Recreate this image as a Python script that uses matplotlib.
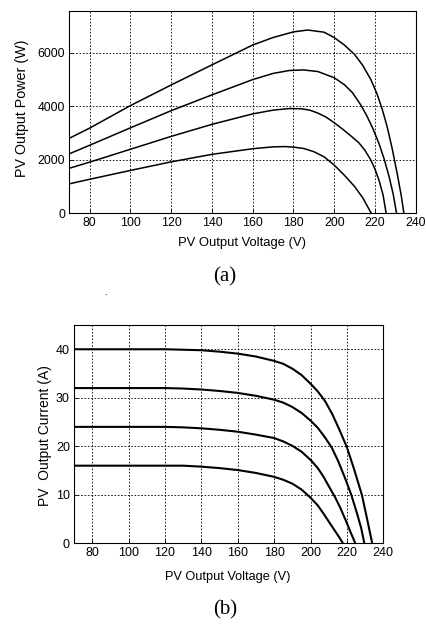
import matplotlib
matplotlib.use("Agg")
import matplotlib.pyplot as plt

# ---- Data: (a) power vs voltage ----
v_p1 = [70, 80, 100, 120, 140, 160, 170, 180, 187, 195, 200, 205, 210, 214, 218, 221, 223.5, 226, 228.5, 231, 233, 234.2]
p1 = [2800, 3180, 4020, 4790, 5540, 6280, 6560, 6770, 6840, 6760, 6560, 6280, 5930, 5520, 4990, 4460, 3900, 3230, 2400, 1450, 620, 0]
v_p2 = [70, 80, 100, 120, 140, 160, 170, 178, 185, 192, 200, 205, 209, 213, 216, 219, 222, 224.5, 227, 229, 230.6]
p2 = [2220, 2540, 3190, 3830, 4420, 4990, 5220, 5330, 5350, 5290, 5060, 4800, 4500, 4050, 3640, 3160, 2600, 2030, 1350, 700, 0]
v_p3 = [70, 80, 100, 120, 140, 160, 170, 178, 184, 188, 192, 196, 200, 204, 208, 212, 215, 217.9, 220, 222, 224, 225.5]
p3 = [1680, 1910, 2390, 2870, 3320, 3710, 3850, 3910, 3900, 3850, 3740, 3590, 3380, 3150, 2900, 2640, 2360, 2000, 1650, 1230, 680, 0]
v_p4 = [70, 80, 100, 120, 140, 160, 170, 176, 180, 185, 190, 195, 200, 205, 210, 214, 218.2]
p4 = [1100, 1270, 1600, 1920, 2200, 2410, 2480, 2490, 2470, 2420, 2300, 2110, 1800, 1420, 1000, 580, 0]

# ---- Data: (b) current vs voltage ----
v_i1 = [70, 100, 120, 130, 140, 150, 160, 170, 180, 185, 190, 195, 200, 204, 208, 212, 216, 220, 224, 228.3, 231.1, 233.9]
i1 = [40, 40, 40, 39.9, 39.8, 39.5, 39.1, 38.5, 37.6, 37.0, 36.0, 34.7, 32.9, 31.3, 29.3, 26.6, 23.3, 19.8, 15.2, 9.9, 5.0, 0]
v_i2 = [70, 100, 120, 130, 140, 150, 160, 170, 180, 185, 190, 195, 200, 204, 208, 211.7, 215, 218.5, 222.4, 225.6, 227.8, 229.6]
i2 = [32, 32, 32, 31.9, 31.7, 31.4, 31.0, 30.4, 29.6, 29.0, 28.1, 26.9, 25.3, 23.8, 21.8, 19.7, 17.1, 13.9, 10.0, 6.1, 3.2, 0]
v_i3 = [70, 100, 120, 130, 140, 150, 160, 170, 180, 185, 190, 195, 200, 204, 207, 210, 213.5, 216.5, 219.5, 222, 224.6]
i3 = [24, 24, 24, 23.9, 23.7, 23.4, 23.0, 22.4, 21.7, 21.0, 20.1, 18.9, 17.2, 15.5, 13.8, 11.8, 9.5, 7.2, 4.6, 2.3, 0]
v_i4 = [70, 100, 120, 130, 140, 150, 160, 170, 180, 185, 190, 195, 200, 204, 207, 210, 213, 215.5, 217.8]
i4 = [16, 16, 16, 16, 15.8, 15.5, 15.1, 14.5, 13.7, 13.1, 12.3, 11.1, 9.4, 7.8, 6.2, 4.5, 2.8, 1.4, 0]

x_ticks = [80, 100, 120, 140, 160, 180, 200, 220, 240]
p_ticks = [0, 2000, 4000, 6000]
i_ticks = [0, 10, 20, 30, 40]

W, H = 427, 624
fig = plt.figure(figsize=(W / 100, H / 100), dpi=100)
fig.patch.set_facecolor("white")

sans = ["Liberation Sans", "DejaVu Sans"]
serif = ["Liberation Serif", "DejaVu Serif"]


def style_axes(ax, fs):
    ax.grid(True, color="black", linestyle=(0, (2, 2)), linewidth=0.6)
    ax.tick_params(direction="in", length=3, width=0.6, labelsize=fs, pad=3)
    for lab in ax.get_xticklabels() + ax.get_yticklabels():
        lab.set_family(sans)
    for s in ax.spines.values():
        s.set_linewidth(0.8)
    ax.set_axisbelow(True)


# (a)
l1, b1, w1, h1 = 69.3, 213.3, 346.4, 202.3
ax1 = fig.add_axes([l1 / W, 1 - b1 / H, w1 / W, h1 / H])
for v, p in [(v_p1, p1), (v_p2, p2), (v_p3, p3), (v_p4, p4)]:
    ax1.plot(v, p, color="black", linewidth=1.1)
ax1.set_xlim(70, 240)
ax1.set_ylim(0, 7550)
ax1.set_xticks(x_ticks)
ax1.set_yticks(p_ticks)
style_axes(ax1, 8.9)
ax1.set_xlabel("PV Output Voltage (V)", family=sans, fontsize=9.4, va="center")
ax1.xaxis.set_label_coords((242 - l1) / w1, -(243 - b1) / h1)
ax1.set_ylabel("PV Output Power (W)", family=sans, fontsize=10.3, va="center")
ax1.yaxis.set_label_coords((22.5 - l1) / w1, (b1 - 108) / h1)

# (b)
l2, b2, w2, h2 = 74, 543.3, 309.3, 218.3
ax2 = fig.add_axes([l2 / W, 1 - b2 / H, w2 / W, h2 / H])
for v, i in [(v_i1, i1), (v_i2, i2), (v_i3, i3), (v_i4, i4)]:
    ax2.plot(v, i, color="black", linewidth=1.5)
ax2.set_xlim(70, 240)
ax2.set_ylim(0, 45)
ax2.set_xticks(x_ticks)
ax2.set_yticks(i_ticks)
style_axes(ax2, 9.0)
ax2.set_xlabel("PV Output Voltage (V)", family=sans, fontsize=9.2, va="center")
ax2.xaxis.set_label_coords((227.5 - l2) / w2, -(576.7 - b2) / h2)
ax2.set_ylabel("PV  Output Current (A)", family=sans, fontsize=10.0, va="center")
ax2.yaxis.set_label_coords((45 - l2) / w2, (b2 - 436) / h2)

fig.text(225 / W, 1 - 277 / H, "(a)", family=serif, fontsize=15, ha="center", va="center")
fig.text(225 / W, 1 - 610 / H, "(b)", family=serif, fontsize=15, ha="center", va="center")
fig.text(105 / W, 1 - 292 / H, ".", family=sans, fontsize=7, ha="center", va="center")

fig.savefig("out.png", dpi=100)
